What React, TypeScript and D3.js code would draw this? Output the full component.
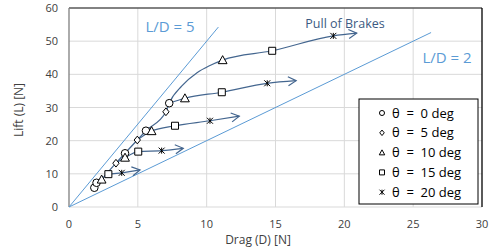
import * as d3 from "d3";

// marker points, [drag, lift]
const circles = [[1.84, 5.8], [2.0, 7.3], [4.07, 16.2], [5.59, 23.0], [7.28, 31.3]];
const diamonds = [[3.41, 13.2], [4.96, 20.2], [7.04, 28.7]];
const triangles = [[2.37, 8.3], [4.07, 14.9], [6.0, 22.9], [8.42, 32.8], [11.16, 44.3]];
const squares = [[2.86, 9.9], [5.03, 16.7], [7.7, 24.5], [11.1, 34.6], [14.76, 47.1]];
const stars = [[3.83, 10.3], [6.73, 17.0], [10.24, 26.0], [14.4, 37.3], [19.2, 51.6]];

// trend curves (ends in an arrow)
const curveA = [[2.37, 8.3], [2.86, 9.9], [3.83, 10.3], [5.16, 11.2]];
const curveB = [[3.41, 13.2], [4.07, 14.9], [5.03, 16.7], [6.73, 17.0], [8.3, 17.7]];
const curveC = [[4.96, 20.2], [6.0, 22.9], [7.7, 24.5], [10.24, 26.0], [12.37, 27.4]];
const curveD = [[7.28, 31.3], [8.42, 32.8], [11.1, 34.6], [14.4, 37.3], [16.5, 38.1]];
const curveE = [
  [1.84, 5.8], [2.37, 8.3], [3.41, 13.2], [4.07, 16.2], [4.96, 20.2], [5.59, 23.0],
  [7.04, 28.7], [7.28, 31.3], [8.2, 36.5], [9.3, 40.5], [10.2, 42.6], [11.16, 44.3],
  [14.76, 47.1], [19.2, 51.6], [20.9, 52.4],
];

// L/D reference lines: ratio and where the line stops
const ratios = [5, 2];
const ratioEnds = [10.85, 26.3];

const xTicks = [0, 5, 10, 15, 20, 25, 30];
const yTicks = [0, 10, 20, 30, 40, 50, 60];
const legendLabels = ["θ  =  0 deg", "θ  =  5 deg", "θ  =  10 deg", "θ  =  15 deg", "θ  =  20 deg"];

const W = 500;
const H = 249;
const FONT = "Open Sans, sans-serif";
const LINE = "#44668f";
const REF = "#5b9bd5";

const x = d3.scaleLinear().domain([0, 30]).range([69, 482]);
const y = d3.scaleLinear().domain([0, 60]).range([207, 8]);

function markerPath(kind: string, s: number) {
  if (kind === "circle") return d3.symbol(d3.symbolCircle, s * s * 0.8)()!;
  if (kind === "diamond") return `M0,${-s * 0.55}L${s * 0.45},0L0,${s * 0.55}L${-s * 0.45},0Z`;
  if (kind === "triangle") return `M0,${-s * 0.55}L${s * 0.55},${s * 0.45}L${-s * 0.55},${s * 0.45}Z`;
  if (kind === "square") return `M${-s / 2},${-s / 2}h${s}v${s}h${-s}Z`;
  const h = s / 2;
  return `M${-h},${-h}L${h},${h}M${-h},${h}L${h},${-h}M0,${-h}V${h}`;
}

const series = [
  { kind: "circle", pts: circles, size: 7.5 },
  { kind: "diamond", pts: diamonds, size: 7 },
  { kind: "triangle", pts: triangles, size: 8 },
  { kind: "square", pts: squares, size: 7 },
  { kind: "star", pts: stars, size: 6 },
];

export default function App() {
  const line = d3
    .line<number[]>()
    .x((d) => x(d[0]))
    .y((d) => y(d[1]))
    .curve(d3.curveMonotoneX);

  const curves = [curveA, curveB, curveC, curveD, curveE];

  return (
    <div style={{ position: "fixed", left: 0, top: 0 }}>
      <svg width={W} height={H} style={{ display: "block", background: "#fff" }}>
        <defs>
          <marker id="arr" markerUnits="userSpaceOnUse" markerWidth="14" markerHeight="14"
            refX="9" refY="6" orient="auto" viewBox="0 0 14 14">
            <path d="M1,1.5L9,6L1,10.5" fill="none" stroke={LINE} strokeWidth={1.2} />
          </marker>
        </defs>

        {/* grid */}
        {xTicks.slice(1, -1).map((t) => (
          <line key={"gx" + t} x1={x(t)} x2={x(t)} y1={y(0)} y2={y(60)} stroke="#d9d9d9" />
        ))}
        {yTicks.slice(1, -1).map((t) => (
          <line key={"gy" + t} x1={x(0)} x2={x(30)} y1={y(t)} y2={y(t)} stroke="#d9d9d9" />
        ))}
        <line x1={x(0)} x2={x(30)} y1={y(0)} y2={y(0)} stroke="#d9d9d9" />
        <line x1={x(0)} x2={x(30)} y1={y(60)} y2={y(60)} stroke="#595959" strokeWidth={1.3} />
        <line x1={x(0)} x2={x(0)} y1={y(0)} y2={y(60)} stroke="#7f7f7f" strokeWidth={1.3} />
        <line x1={x(30)} x2={x(30)} y1={y(0)} y2={y(60)} stroke="#000" strokeWidth={1.3} />

        {/* ticks */}
        {xTicks.map((t) => (
          <text key={"tx" + t} x={x(t)} y={228} textAnchor="middle" fontSize={11}
            fontFamily={FONT} fill="#404040">{t}</text>
        ))}
        {yTicks.map((t) => (
          <text key={"ty" + t} x={58} y={y(t) + 4} textAnchor="end" fontSize={11}
            fontFamily={FONT} fill="#404040">{t}</text>
        ))}
        <text x={258} y={244} textAnchor="middle" fontSize={12} fontFamily={FONT} fill="#404040">
          Drag (D) [N]
        </text>
        <text transform={`translate(23,110) rotate(-90)`} textAnchor="middle" fontSize={12}
          fontFamily={FONT} fill="#404040">Lift (L) [N]</text>

        {/* L/D lines */}
        {ratios.map((r, i) => (
          <line key={"r" + r} x1={x(0)} y1={y(0)} x2={x(ratioEnds[i])} y2={y(ratioEnds[i] * r)}
            stroke={REF} strokeWidth={1} />
        ))}
        <text x={170} y={32} textAnchor="middle" fontSize={15} fontFamily={FONT} fill={REF}>L/D = 5</text>
        <text x={447} y={63} textAnchor="middle" fontSize={15} fontFamily={FONT} fill={REF}>L/D = 2</text>

        {/* curves */}
        {curves.map((c, i) => (
          <path key={"c" + i} d={line(c)!} fill="none" stroke={LINE} strokeWidth={1.2}
            markerEnd="url(#arr)" />
        ))}
        <text x={345} y={28} textAnchor="middle" fontSize={12.5} fontFamily={FONT} fill="#3c5a82">
          Pull of Brakes
        </text>

        {/* markers */}
        {series.map((s) =>
          s.pts.map((p, j) => (
            <path key={s.kind + j} transform={`translate(${x(p[0])},${y(p[1])})`}
              d={markerPath(s.kind, s.size)} fill={s.kind === "star" ? "none" : "#fff"}
              stroke="#000" strokeWidth={1} />
          ))
        )}

        {/* legend */}
        <rect x={359} y={99} width={119} height={105} fill="#fff" stroke="#000" strokeWidth={1} />
        {legendLabels.map((lab, i) => (
          <g key={lab} transform={`translate(0,${113 + i * 19.8})`}>
            <path transform="translate(382,0)" d={markerPath(series[i].kind, 5)}
              fill={series[i].kind === "star" ? "none" : "#fff"} stroke="#000" strokeWidth={1} />
            <text x={392} y={4.5} fontSize={13} fontFamily={FONT} fill="#000"
              style={{ whiteSpace: "pre" }}>{lab}</text>
          </g>
        ))}
      </svg>
    </div>
  );
}
